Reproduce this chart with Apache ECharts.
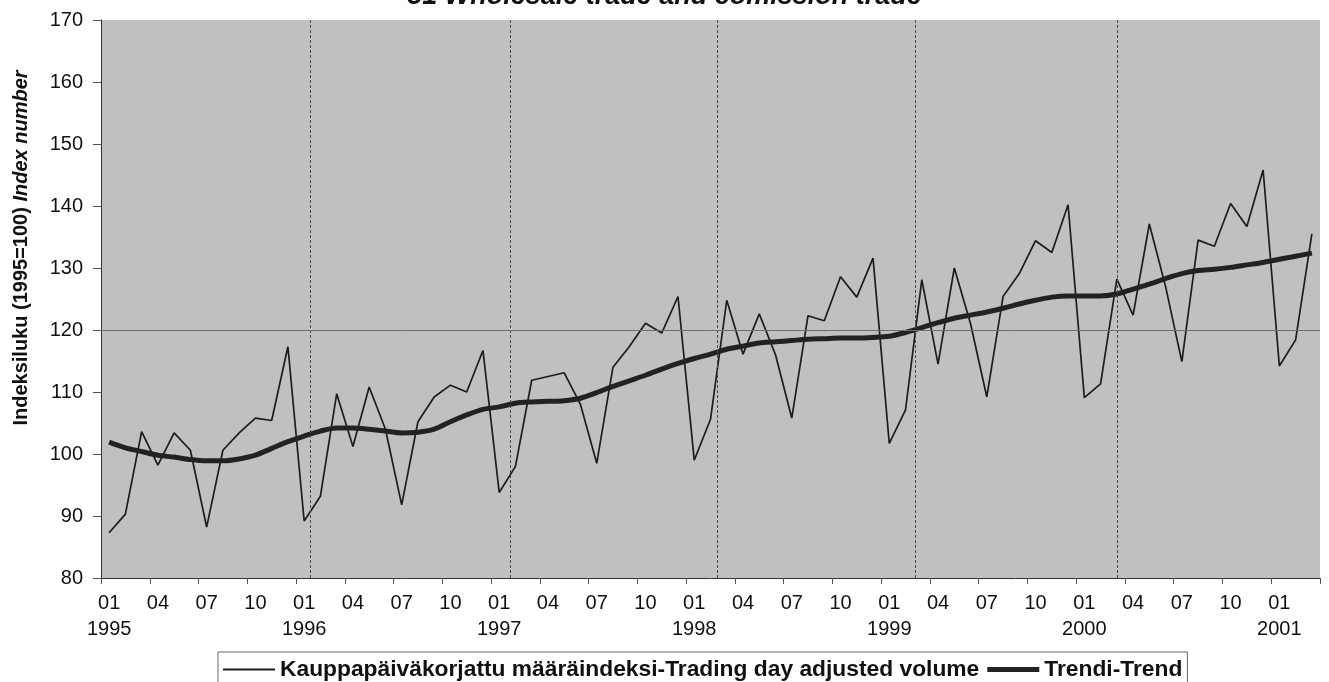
<!DOCTYPE html>
<html>
<head>
<meta charset="utf-8">
<script src="https://cdn.jsdelivr.net/npm/echarts@6/dist/echarts.min.js"></script>
<style>
html,body{margin:0;padding:0;background:#fff;}
#chart{width:1329px;height:682px;}
</style>
</head>
<body>
<div id="chart"></div>
<script>
// ---- data ----
const years = [1995, 1996, 1997, 1998, 1999, 2000, 2001];
const monthCodes = ['01','02','03','04','05','06','07','08','09','10','11','12'];
const lastMonthCount2001 = 3;

const volume = [
  87.3, 90.3, 103.6, 98.2, 103.4, 100.6, 88.2, 100.6, 103.4, 105.8, 105.4, 117.3,
  89.2, 93.2, 109.7, 101.2, 110.8, 104.0, 91.8, 105.2, 109.2, 111.1, 110.0, 116.7,
  93.8, 98.0, 111.9, 112.5, 113.1, 108.0, 98.5, 114.0, 117.3, 121.1, 119.5, 125.4,
  99.0, 105.6, 124.8, 116.1, 122.6, 116.0, 105.8, 122.3, 121.5, 128.6, 125.3, 131.6,
  101.7, 107.1, 128.1, 114.5, 130.0, 121.0, 109.2, 125.4, 129.1, 134.4, 132.5, 140.2,
  109.1, 111.3, 128.2, 122.4, 137.1, 127.0, 114.9, 134.5, 133.5, 140.4, 136.7, 145.8,
  114.2, 118.4, 135.5
];

const trend = [
  101.9, 101.0, 100.4, 99.8, 99.5, 99.1, 98.9, 98.9, 99.2, 99.8, 100.9, 102.0,
  102.9, 103.7, 104.2, 104.2, 104.0, 103.7, 103.4, 103.5, 104.0, 105.2, 106.3, 107.2,
  107.6, 108.2, 108.4, 108.5, 108.6, 109.0, 109.9, 110.9, 111.8, 112.7, 113.7, 114.6,
  115.4, 116.1, 116.9, 117.4, 117.9, 118.1, 118.3, 118.5, 118.6, 118.7, 118.7, 118.8,
  119.0, 119.6, 120.4, 121.2, 121.9, 122.4, 122.9, 123.5, 124.2, 124.8, 125.3, 125.5,
  125.5, 125.5, 125.8, 126.6, 127.4, 128.3, 129.1, 129.6, 129.8, 130.1, 130.5, 130.9,
  131.4, 131.9, 132.4
];

// vertical dashed reference lines (in month-index units) and horizontal line value
const verticalLineAt = [12.4, 24.7, 37.4, 49.6, 62.0];
const horizontalLineAt = [120];

const yTicks = {min: 80, max: 170, interval: 10};

const seriesNames = [
  'Kauppapäiväkorjattu määräindeksi-Trading day adjusted volume',
  'Trendi-Trend'
];
const titleText = '51 Wholesale trade and comission trade';
const yNameMain = 'Indeksiluku (1995=100) ';
const yNameItalic = 'Index number';

// build categories
const categories = [];
years.forEach(y => {
  const n = (y === 2001) ? lastMonthCount2001 : 12;
  for (let m = 0; m < n; m++) categories.push(y + '-' + monthCodes[m]);
});

const FONT = "'Liberation Sans', Arial, sans-serif";
const chart = echarts.init(document.getElementById('chart'), null, {renderer: 'canvas'});

chart.setOption({
  animation: false,
  backgroundColor: '#ffffff',
  title: {
    text: titleText,
    left: 'center',
    top: -22,
    textStyle: {fontFamily: FONT, fontSize: 27, fontWeight: 'bold', fontStyle: 'italic', color: '#111'}
  },
  grid: {
    left: 101, right: 9, top: 20, bottom: 104,
    show: true, backgroundColor: '#c0c0c0', borderWidth: 0
  },
  legend: {
    top: 652,
    left: 218,
    itemGap: 8,
    itemWidth: 52,
    itemHeight: 14,
    padding: [6, 5, 12, 5],
    backgroundColor: '#ffffff',
    borderColor: '#666',
    borderWidth: 1,
    textStyle: {fontFamily: FONT, fontSize: 22.8, fontWeight: 'bold', color: '#111'},
    data: [
      {name: seriesNames[0], icon: 'path://M0,0L52,0L52,2L0,2Z'},
      {name: seriesNames[1], icon: 'path://M0,0L52,0L52,5L0,5Z'}
    ]
  },
  xAxis: [{
    type: 'category',
    data: categories,
    boundaryGap: true,
    axisLine: {onZero: false, lineStyle: {color: '#333', width: 1}},
    axisTick: {show: true, interval: 2, length: 6, lineStyle: {color: '#555'}},
    axisLabel: {
      interval: 2,
      margin: 12,
      fontFamily: FONT, fontSize: 20, color: '#111', lineHeight: 26,
      formatter: function (v) {
        const p = v.split('-');
        return p[1] === '01' ? p[1] + '\n' + p[0] : p[1];
      }
    },
    splitLine: {show: false}
  }, {
    type: 'value',
    min: -0.5, max: categories.length - 0.5,
    show: false,
    axisLine: {onZero: false},
    splitLine: {show: false}
  }],
  yAxis: {
    type: 'value',
    min: yTicks.min, max: yTicks.max, interval: yTicks.interval,
    axisLine: {show: true, onZero: false, lineStyle: {color: '#333', width: 1}},
    axisTick: {show: true, length: 8, lineStyle: {color: '#555'}},
    axisLabel: {margin: 18, fontFamily: FONT, fontSize: 20, color: '#111'},
    splitLine: {show: false},
    name: '{b|' + yNameMain + '}{i|' + yNameItalic + '}',
    nameLocation: 'middle',
    nameRotate: 90,
    nameGap: 70,
    nameTextStyle: {
      padding: [0, 0, 0, 102],
      rich: {
        b: {fontFamily: FONT, fontSize: 20, fontWeight: 'bold', color: '#111'},
        i: {fontFamily: FONT, fontSize: 20, fontWeight: 'bold', fontStyle: 'italic', color: '#111'}
      }
    }
  },
  series: [
    {
      name: 'refLines',
      type: 'line',
      xAxisIndex: 1,
      data: [],
      silent: true,
      markLine: {
        silent: true,
        symbol: 'none',
        label: {show: false},
        data: verticalLineAt.map(v => ({xAxis: v, lineStyle: {color: '#4a4a4a', width: 1, type: [3, 2]}}))
          .concat(horizontalLineAt.map(v => ({yAxis: v, lineStyle: {color: '#6e6e6e', width: 1, type: 'solid'}})))
      }
    },
    {
      name: seriesNames[0],
      type: 'line',
      data: volume,
      symbol: 'none',
      lineStyle: {color: '#1c1c1c', width: 1.7},
      itemStyle: {color: '#1c1c1c'}
    },
    {
      name: seriesNames[1],
      type: 'line',
      data: trend,
      symbol: 'none',
      smooth: 0.3,
      lineStyle: {color: '#222', width: 5},
      itemStyle: {color: '#222'}
    }
  ]
});
</script>
</body>
</html>
